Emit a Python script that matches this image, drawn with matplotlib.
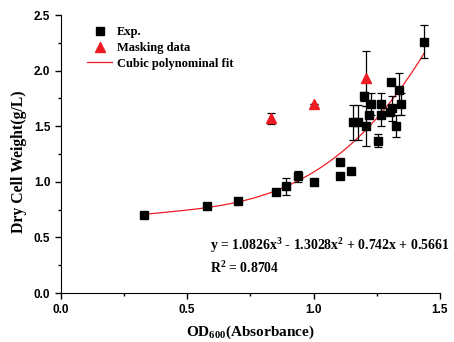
import matplotlib
matplotlib.use("Agg")
import matplotlib.pyplot as plt
import numpy as np
from matplotlib.ticker import MultipleLocator
from matplotlib.lines import Line2D

plt.rcParams['mathtext.fontset'] = 'custom'
plt.rcParams['mathtext.rm'] = 'Liberation Serif:bold'
plt.rcParams['mathtext.bf'] = 'Liberation Serif:bold'
plt.rcParams['mathtext.it'] = 'Liberation Serif:bold'

# Experimental data (OD600, DCW, error)
exp_x = [0.33, 0.58, 0.70, 0.85, 0.89, 0.94, 1.00, 1.105, 1.105, 1.148, 1.155, 1.175,
         1.20, 1.207, 1.219, 1.228, 1.253, 1.265, 1.265, 1.302, 1.306, 1.311, 1.328,
         1.339, 1.344, 1.438]
exp_y = [0.70, 0.78, 0.83, 0.91, 0.96, 1.05, 1.00, 1.18, 1.05, 1.10, 1.535, 1.535,
         1.77, 1.50, 1.60, 1.70, 1.37, 1.70, 1.60, 1.63, 1.90, 1.66, 1.50,
         1.83, 1.70, 2.26]
exp_err = [0, 0, 0, 0, 0.075, 0.05, 0, 0, 0, 0, 0.155, 0.155,
           0.04, 0.18, 0, 0.10, 0.056, 0.10, 0.10, 0, 0, 0.11, 0.10,
           0.15, 0.10, 0.15]

# Masking data
mask_x = [0.83, 1.00, 1.208]
mask_y = [1.57, 1.70, 1.93]
mask_err = [0.05, 0, 0.25]

# Cubic fit coefficients
coef = [1.0826, -1.3028, 0.742, 0.5661]
fit_range = [0.33, 1.44]

x_ticks = [0.0, 0.5, 1.0, 1.5]
y_ticks = [0.0, 0.5, 1.0, 1.5, 2.0, 2.5]

serif = ["Liberation Serif", "DejaVu Serif"]
sans = ["Liberation Sans", "DejaVu Sans"]
RED = '#ee1c24'

fig = plt.figure(figsize=(4.54, 3.42), dpi=100)
ax = fig.add_axes([0.134, 0.143, 0.835, 0.813])

ax.errorbar(exp_x, exp_y, yerr=exp_err, fmt='s', color='black', ms=5.5,
            ecolor='black', elinewidth=0.9, capsize=3, capthick=0.9, zorder=3)
ax.errorbar(mask_x, mask_y, yerr=mask_err, fmt='^', mfc=RED, mec=RED, ms=6.5,
            ecolor='black', elinewidth=0.9, capsize=3, capthick=0.9, zorder=3)
xf = np.linspace(fit_range[0], fit_range[1], 200)
ax.plot(xf, np.polyval(coef, xf), color=RED, lw=0.9, zorder=2)

ax.set_xlim(0, 1.5)
ax.set_ylim(0, 2.5)
ax.set_xticks(x_ticks)
ax.set_yticks(y_ticks)
ax.set_xticklabels([f"{v:.1f}" for v in x_ticks])
ax.set_yticklabels([f"{v:.1f}" for v in y_ticks])
ax.xaxis.set_minor_locator(MultipleLocator(0.25))
ax.yaxis.set_minor_locator(MultipleLocator(0.25))
ax.tick_params(which='major', direction='out', length=4, width=1)
ax.tick_params(which='minor', direction='out', length=2.5, width=1)
for lab in ax.get_xticklabels() + ax.get_yticklabels():
    lab.set_fontfamily(sans)
    lab.set_fontweight('bold')
    lab.set_fontsize(8.5)
ax.spines['top'].set_visible(False)
ax.spines['right'].set_visible(False)

ax.set_xlabel(r"OD$_{600}$(Absorbance)", fontfamily=serif, fontweight='bold', fontsize=11, labelpad=6)
ax.set_ylabel("Dry Cell Weight(g/L)", fontfamily=serif, fontweight='bold', fontsize=11.3)
ax.yaxis.set_label_coords(-0.09, 0.473)

handles = [
    Line2D([], [], ls='none', marker='s', color='black', ms=5.5),
    Line2D([], [], ls='none', marker='^', mfc=RED, mec=RED, ms=6.5),
    Line2D([], [], color=RED, lw=0.9),
]
labels = ['Exp.', 'Masking data', 'Cubic polynominal fit']
ax.legend(handles, labels, loc='upper left', bbox_to_anchor=(0.04, 1.0), frameon=False,
          prop={'family': serif, 'weight': 'bold', 'size': 9},
          handlelength=2.0, handletextpad=0.4, labelspacing=0.3)

ax.text(0.59, 0.39, r"y = 1.0826x$^{3}$ - 1.3028x$^{2}$ + 0.742x + 0.5661",
        fontfamily=serif, fontweight='bold', fontsize=9.9, va='baseline')
ax.text(0.59, 0.18, r"R$^{2}$ = 0.8704",
        fontfamily=serif, fontweight='bold', fontsize=9.9, va='baseline')

fig.savefig("out.png", dpi=100)
